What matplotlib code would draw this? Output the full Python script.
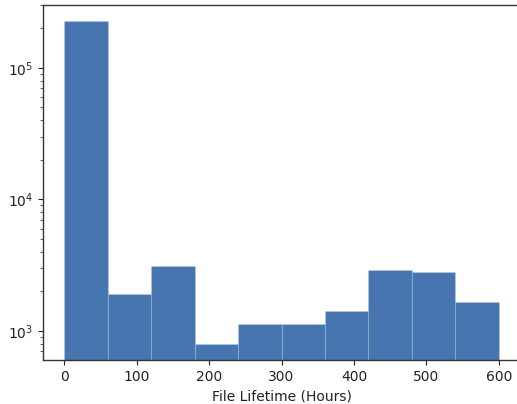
import numpy as np
import matplotlib
matplotlib.use('Agg')
import matplotlib.pyplot as plt

# Histogram bins (hours) and counts
bin_edges = [0, 60, 120, 180, 240, 300, 360, 420, 480, 540, 600]
counts = [227000, 1900, 3140, 796, 1137, 1130, 1412, 2890, 2810, 1653]

fig = plt.figure(figsize=(5.17, 4.04), dpi=100)
ax = fig.add_axes([0.0826, 0.109, 0.924, 0.879])

ax.hist(bin_edges[:-1], bins=bin_edges, weights=counts, log=True,
        color='#4775b0', edgecolor=(1, 1, 1, 0.12), linewidth=0.8)

ax.set_xlim(-30, 630)
ax.set_ylim(602, 301000)
ax.set_xticks([0, 100, 200, 300, 400, 500, 600])
ax.set_xlabel('File Lifetime (Hours)', fontsize=10, color='#222222')

for side in ['left', 'bottom', 'top', 'right']:
    ax.spines[side].set_color('#333333')
    ax.spines[side].set_linewidth(1.0)
ax.tick_params(axis='both', labelsize=10, colors='#222222')
ax.tick_params(which='minor', color='#444444')

fig.savefig('out.png', dpi=100)
